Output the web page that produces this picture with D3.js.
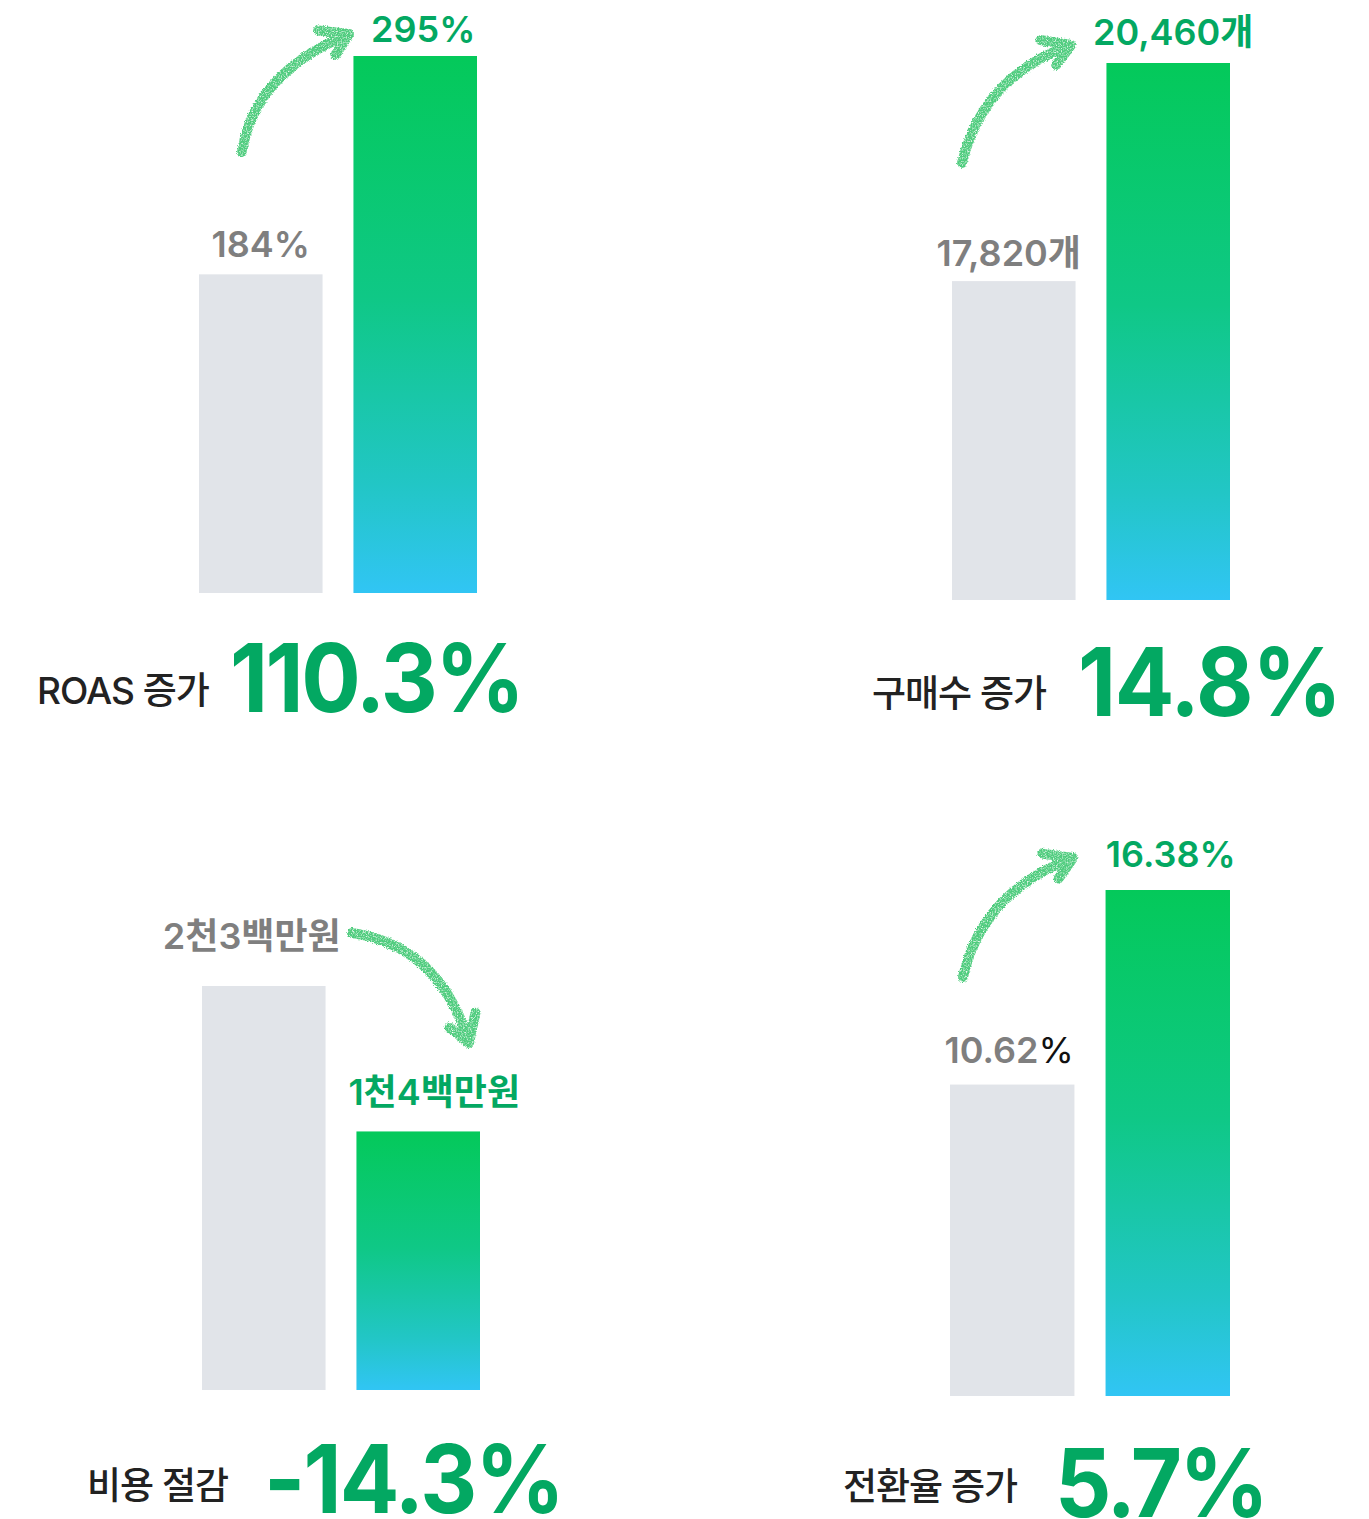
<!DOCTYPE html>
<html>
<head>
<meta charset="utf-8">
<script src="https://cdn.jsdelivr.net/npm/d3@7"></script>
<style>
  body { margin: 0; background: #fff; }
  svg { display: block; }
</style>
</head>
<body>
<script>
// before / after values for each panel
const panelTitles = ["ROAS 증가", "구매수 증가", "비용 절감", "전환율 증가"];
const beforeValues = [184, 17820, 2300, 10.62];   // 비용 in 만원
const afterValues = [295, 20460, 1400, 16.38];
const beforeLabels = ["184%", "17,820개", "2천3백만원", "10.62%"];
const afterLabels = ["295%", "20,460개", "1천4백만원", "16.38%"];
const changeLabels = ["110.3%", "14.8%", "-14.3%", "5.7%"];
const axisFloors = [22, 13960, -200, 1.4];
const barKeys = ["before", "after"];

const w = 1369;
const h = 1519;

// where each panel sits on the page
const layout = [
  { x0: 199, x1: 477, bottom: 593, maxH: 537,
    bLab: [0, -17], aLab: [8, -14],
    title: [37, 704], big: [230, 712, 286],
    arrow: { from: [242, 152], ctrl: [254, 73], to: [349, 34] } },
  { x0: 952, x1: 1230, bottom: 600, maxH: 537,
    bLab: [-5, -15], aLab: [5, -18],
    title: [872, 707], big: [1078, 716, 255],
    arrow: { from: [962, 163], ctrl: [983, 76], to: [1071, 45] } },
  { x0: 202, x1: 480, bottom: 1390, maxH: 404,
    bLab: [-12, -37], aLab: [16, -26],
    title: [87, 1499], big: [264, 1513, 292],
    arrow: { from: [352, 933], ctrl: [440, 946], to: [469, 1043] } },
  { x0: 950, x1: 1230, bottom: 1396, maxH: 506,
    bLab: [-3, -22], aLab: [3, -23],
    title: [843, 1500], big: [1055, 1517, 205],
    arrow: { from: [963, 977], ctrl: [982, 892], to: [1073, 858] } }
];

const numFont = "Inter, 'Noto Sans CJK KR', sans-serif";
const green = "#03a862";
const grey = "#7f7f7f";
const squeeze = 0.93;   // the original numerals are a little narrower than Inter

const svg = d3.select("body")
  .append("svg")
  .attr("width", w)
  .attr("height", h);

const defs = svg.append("defs");

const grad = defs.append("linearGradient")
  .attr("id", "barGrad")
  .attr("x1", 0).attr("y1", 0).attr("x2", 0).attr("y2", 1);
[["0%", "#04c95a"], ["45%", "#0fc886"], ["80%", "#22c6c6"], ["100%", "#31c5f4"]]
  .forEach(s => grad.append("stop").attr("offset", s[0]).attr("stop-color", s[1]));

// rough chalk look for the arrows
const chalk = defs.append("filter")
  .attr("id", "chalk")
  .attr("filterUnits", "userSpaceOnUse")
  .attr("x", 0).attr("y", 0).attr("width", w).attr("height", h);
chalk.append("feTurbulence")
  .attr("type", "fractalNoise").attr("baseFrequency", 0.8)
  .attr("numOctaves", 2).attr("seed", 4).attr("result", "noise");
chalk.append("feDisplacementMap")
  .attr("in", "SourceGraphic").attr("in2", "noise").attr("scale", 4)
  .attr("xChannelSelector", "R").attr("yChannelSelector", "G").attr("result", "rough");
chalk.append("feColorMatrix")
  .attr("in", "noise").attr("type", "matrix")
  .attr("values", "0 0 0 0 0  0 0 0 0 0  0 0 0 0 0  2.4 0 0 0 -0.3")
  .attr("result", "grain");
chalk.append("feComposite")
  .attr("in", "rough").attr("in2", "grain").attr("operator", "in");

panelTitles.forEach((title, i) => {
  const L = layout[i];
  const g = svg.append("g").attr("class", "panel");
  const vals = [beforeValues[i], afterValues[i]];

  const xScale = d3.scaleBand()
    .domain(barKeys)
    .range([L.x0, L.x1])
    .paddingInner(0.2);
  const yScale = d3.scaleLinear()
    .domain([axisFloors[i], d3.max(vals)])
    .range([L.bottom, L.bottom - L.maxH]);

  g.selectAll("rect")
    .data(barKeys)
    .join("rect")
    .attr("x", d => xScale(d))
    .attr("y", (d, j) => yScale(vals[j]))
    .attr("width", xScale.bandwidth())
    .attr("height", (d, j) => L.bottom - yScale(vals[j]))
    .attr("fill", d => d === "before" ? "#e1e4e9" : "url(#barGrad)");

  // value labels over the bars
  const bl = g.append("text")
    .attr("x", xScale("before") + xScale.bandwidth() / 2 + L.bLab[0])
    .attr("y", yScale(vals[0]) + L.bLab[1])
    .attr("text-anchor", "middle")
    .attr("font-family", numFont)
    .attr("font-size", 36)
    .attr("font-weight", 600)
    .attr("fill", grey);
  if (i === 3) {
    // the % sign is dark in the original
    bl.append("tspan").text(beforeLabels[i].slice(0, -1));
    bl.append("tspan").attr("fill", "#111").attr("font-weight", 400).text("%");
  } else {
    bl.text(beforeLabels[i]);
  }

  g.append("text")
    .attr("x", xScale("after") + xScale.bandwidth() / 2 + L.aLab[0])
    .attr("y", yScale(vals[1]) + L.aLab[1])
    .attr("text-anchor", "middle")
    .attr("font-family", numFont)
    .attr("font-size", 36)
    .attr("font-weight", 600)
    .attr("fill", green)
    .text(afterLabels[i]);

  // hand drawn arrow
  const a = L.arrow;
  const p = d3.path();
  p.moveTo(a.from[0], a.from[1]);
  p.quadraticCurveTo(a.ctrl[0], a.ctrl[1], a.to[0], a.to[1]);
  const ang = Math.atan2(a.ctrl[1] - a.to[1], a.ctrl[0] - a.to[0]);
  [[0.5, 31], [-0.6, 25]].forEach(arm => {
    p.moveTo(a.to[0], a.to[1]);
    p.lineTo(a.to[0] + arm[1] * Math.cos(ang + arm[0]), a.to[1] + arm[1] * Math.sin(ang + arm[0]));
  });
  g.append("path")
    .attr("d", p.toString())
    .attr("fill", "none")
    .attr("stroke", "#4fcc7e")
    .attr("stroke-width", 10)
    .attr("stroke-linecap", "round")
    .attr("stroke-linejoin", "round")
    .attr("filter", "url(#chalk)");

  // bottom caption
  g.append("text")
    .attr("x", L.title[0])
    .attr("y", L.title[1])
    .attr("font-family", numFont)
    .attr("font-size", 37)
    .attr("font-weight", 500)
    .attr("letter-spacing", -1)
    .attr("fill", "#222")
    .text(title);

  // big change figure, spacing fitted to the original width
  const big = g.append("text")
    .attr("transform", `translate(${L.big[0]},${L.big[1]}) scale(${squeeze},1)`)
    .attr("font-family", numFont)
    .attr("font-size", 95)
    .attr("font-weight", 700)
    .attr("fill", green)
    .text(changeLabels[i]);
  const n = changeLabels[i].length;
  const natural = big.node().getComputedTextLength();
  big.attr("letter-spacing", ((L.big[2] + 9) / squeeze - natural) / (n - 1));
});
</script>
</body>
</html>
